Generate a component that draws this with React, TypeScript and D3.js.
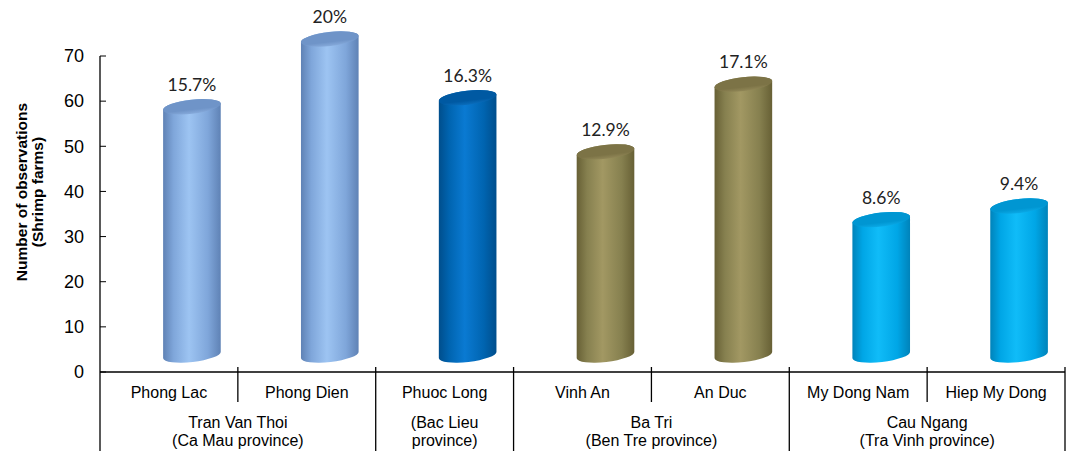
import React from "react";
import * as d3 from "d3";

const categories = ["Phong Lac", "Phong Dien", "Phuoc Long", "Vinh An", "An Duc", "My Dong Nam", "Hiep My Dong"];
const values = [55, 70, 57, 45, 60, 30, 33];
const percentLabels = ["15.7%", "20%", "16.3%", "12.9%", "17.1%", "8.6%", "9.4%"];
const colorGroup = [0, 0, 1, 2, 2, 3, 3];
const groupLine1 = ["Tran Van Thoi", "(Bac Lieu", "Ba Tri", "Cau Ngang"];
const groupLine2 = ["(Ca Mau province)", "province)", "(Ben Tre province)", "(Tra Vinh province)"];
const groupSpans = [2, 1, 2, 2];
const yTicks = [0, 10, 20, 30, 40, 50, 60, 70];

const palettes = [
  { edge: "#5F82B5", mid: "#7FA6DA", light: "#9DC4F2", top: "#6F94C8", topLight: "#86AADB" },
  { edge: "#004E8C", mid: "#0064B0", light: "#0A7AD2", top: "#0059A2", topLight: "#0A6DBC" },
  { edge: "#676035", mid: "#86804F", light: "#A29863", top: "#7C7346", topLight: "#918757" },
  { edge: "#0083BA", mid: "#00A6E6", light: "#10BCF8", top: "#0096D2", topLight: "#0AA9E6" },
];

const W = 1068;
const H = 451;
const left = 100;
const right = 1065;
const yZero = 372;
const yTop = 56;
const depthX = 23;
const depthY = 17;
const rx = 29;
const ry = 7;
const rotDeg = -6.5;

export default function App() {
  const x = d3.scaleBand<string>().domain(categories).range([left, right]).padding(0);
  const y = d3.scaleLinear().domain([0, 70]).range([yZero, yTop]);
  const bw = x.bandwidth();
  const th = (rotDeg * Math.PI) / 180;
  const c = Math.cos(th);
  const s = Math.sin(th);

  const groupStarts: number[] = [];
  let acc = 0;
  groupSpans.forEach((n) => {
    groupStarts.push(acc);
    acc += n;
  });
  const majorIdx = new Set<number>(groupStarts.concat([categories.length]));

  const font = "'Liberation Sans', Arial, sans-serif";
  const labelFont = "Lato, sans-serif";

  return (
    <svg width={W} height={H} style={{ position: "absolute", left: 0, top: 0, background: "#fff" }} xmlns="http://www.w3.org/2000/svg">
      <defs>
        {palettes.map((p, i) => (
          <linearGradient key={i} id={`cyl${i}`} x1="0" x2="1" y1="0" y2="0">
            <stop offset="0%" stopColor={p.edge} />
            <stop offset="18%" stopColor={p.mid} />
            <stop offset="45%" stopColor={p.light} />
            <stop offset="78%" stopColor={p.mid} />
            <stop offset="100%" stopColor={p.edge} />
          </linearGradient>
        ))}
        {palettes.map((p, i) => (
          <linearGradient key={`t${i}`} id={`top${i}`} x1="0" x2="0" y1="0" y2="1">
            <stop offset="0%" stopColor={p.top} />
            <stop offset="70%" stopColor={p.top} />
            <stop offset="100%" stopColor={p.topLight} />
          </linearGradient>
        ))}
      </defs>

      {/* y axis title */}
      <g fontFamily={font} fontWeight="bold" fontSize={15.5} fill="#000">
        <text transform={`translate(22,192) rotate(-90)`} textAnchor="middle" dy="0.35em">Number of observations</text>
        <text transform={`translate(38,192) rotate(-90)`} textAnchor="middle" dy="0.35em">(Shrimp farms)</text>
      </g>

      {/* y ticks */}
      <g fontFamily={font} fontSize={18} fill="#000">
        {yTicks.map((t) => (
          <g key={t}>
            <line x1={left} x2={left + 6} y1={y(t)} y2={y(t)} stroke="#000" strokeWidth={1} />
            <text x={84} y={y(t)} textAnchor="end" dy="0.35em">{t}</text>
          </g>
        ))}
      </g>

      {/* cylinders */}
      {categories.map((cat, i) => {
        const cx = (x(cat) as number) + bw / 2 + depthX;
        const by = yZero - depthY;
        const ty = y(values[i]) - depthY;
        const lt = [cx - rx * c, ty - rx * s];
        const rt = [cx + rx * c, ty + rx * s];
        const lb = [cx - rx * c, by - rx * s];
        const rb = [cx + rx * c, by + rx * s];
        const d = `M${lt[0]},${lt[1]} L${lb[0]},${lb[1]} A${rx},${ry} ${rotDeg} 0 0 ${rb[0]},${rb[1]} L${rt[0]},${rt[1]} A${rx},${ry} ${rotDeg} 0 0 ${lt[0]},${lt[1]} Z`;
        const g = colorGroup[i];
        return (
          <g key={cat}>
            <path d={d} fill={`url(#cyl${g})`} />
            <ellipse cx={cx} cy={ty} rx={rx} ry={ry} fill={`url(#top${g})`} transform={`rotate(${rotDeg},${cx},${ty})`} />
            <text x={cx} y={ty - 16} textAnchor="middle" fontFamily={labelFont} fontSize={17.5} fill="#222">{percentLabels[i]}</text>
          </g>
        );
      })}

      {/* axes lines */}
      <line x1={left} x2={left} y1={yTop} y2={H} stroke="#000" strokeWidth={1.3} />
      <line x1={left} x2={right} y1={yZero} y2={yZero} stroke="#000" strokeWidth={1.3} />

      {/* category dividers */}
      {d3.range(1, categories.length + 1).map((k) => {
        const xx = k === categories.length ? right : (x(categories[k]) as number);
        const major = majorIdx.has(k);
        return <line key={k} x1={xx} x2={xx} y1={yZero - 5} y2={major ? H : 402} stroke="#000" strokeWidth={1.3} />;
      })}

      {/* category labels */}
      <g fontFamily={font} fontSize={16} fill="#000" textAnchor="middle">
        {categories.map((cat) => (
          <text key={cat} x={(x(cat) as number) + bw / 2} y={392} dy="0.35em">{cat}</text>
        ))}
        {groupLine1.map((g, gi) => {
          const x0 = x(categories[groupStarts[gi]]) as number;
          const cxg = x0 + (groupSpans[gi] * bw) / 2;
          return (
            <g key={g}>
              <text x={cxg} y={422} dy="0.35em">{g}</text>
              <text x={cxg} y={440} dy="0.35em">{groupLine2[gi]}</text>
            </g>
          );
        })}
      </g>
    </svg>
  );
}
